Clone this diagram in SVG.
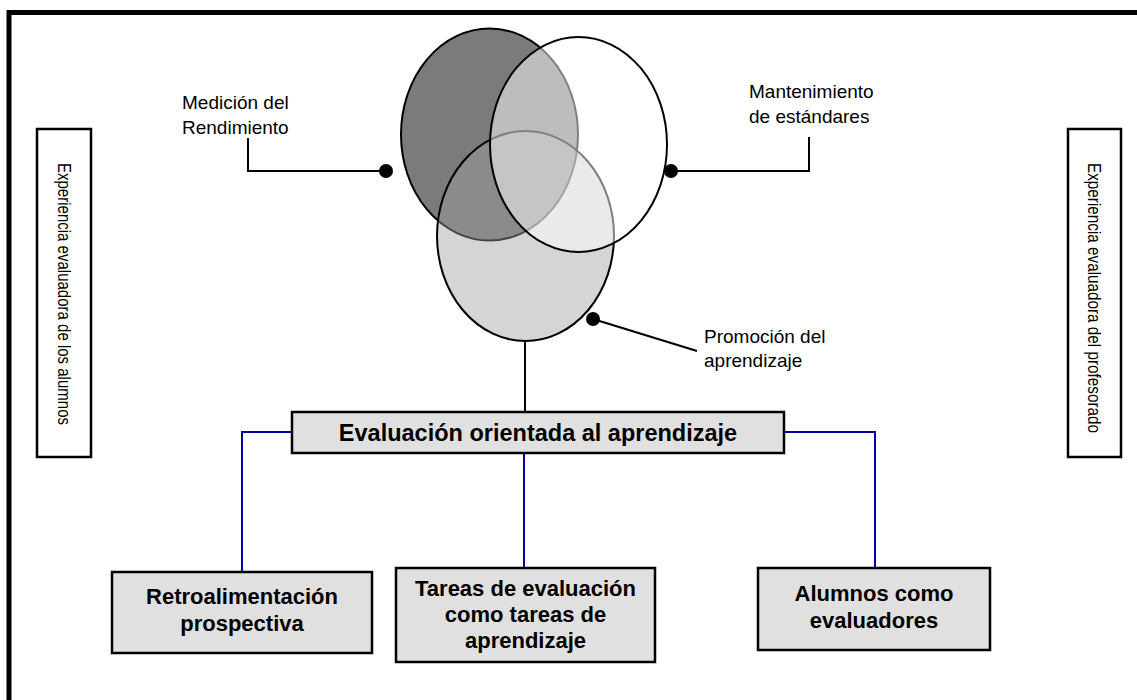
<svg xmlns="http://www.w3.org/2000/svg" width="1137" height="700" viewBox="0 0 1137 700">
<style>
.lbl{font-family:"Liberation Sans",Arial,sans-serif;font-size:19px;fill:#000}
.vt{font-family:"Liberation Sans",Arial,sans-serif;font-size:17.5px;fill:#000;text-anchor:middle}
.bt{font-family:"Liberation Sans",Arial,sans-serif;font-size:22px;font-weight:bold;fill:#000;text-anchor:middle}
.box{fill:#e0e0e0;stroke:#000;stroke-width:2.5}
.side{fill:#fff;stroke:#000;stroke-width:2.5}
.blk{stroke:#000;stroke-width:2;fill:none}
.blu{stroke:#0000a8;stroke-width:2;fill:none}
</style>
<rect x="0" y="0" width="1137" height="700" fill="#fff"/>
<rect x="9" y="12.5" width="1140" height="700" fill="none" stroke="#000" stroke-width="5"/>

<g id="venn">
<ellipse id="medicion" cx="489.5" cy="134.5" rx="88.5" ry="106" fill="#7b7b7b" stroke="#000" stroke-width="2"/>
<ellipse id="promocion" cx="525.5" cy="236" rx="88.5" ry="105" fill="#a0a0a0" fill-opacity="0.44" stroke="#000" stroke-width="2"/>
<ellipse id="mantenimiento" cx="578.5" cy="144.5" rx="88.5" ry="107.5" fill="#fff" fill-opacity="0.5" stroke="#000" stroke-width="2"/>
</g>

<g id="connectors">
<polyline class="blk" points="386,171 248,171 248,138"/>
<polyline class="blk" points="671,171 809,171 809,137"/>
<line class="blk" x1="593" y1="319" x2="697" y2="351"/>
<circle cx="386" cy="171" r="7" fill="#000"/>
<circle cx="671" cy="171" r="7" fill="#000"/>
<circle cx="593" cy="319" r="7" fill="#000"/>
<line class="blk" x1="525" y1="342" x2="525" y2="412"/>
<polyline class="blu" points="292,432 242,432 242,572"/>
<line class="blu" x1="524" y1="453" x2="524" y2="568"/>
<polyline class="blu" points="784,432 875,432 875,568"/>
</g>

<g id="label-medicion">
<text class="lbl" x="182" y="109">Medición del</text>
<text class="lbl" x="182" y="134">Rendimiento</text>
</g>
<g id="label-mantenimiento">
<text class="lbl" x="749" y="98">Mantenimiento</text>
<text class="lbl" x="749" y="123">de estándares</text>
</g>
<g id="label-promocion">
<text class="lbl" x="704" y="343">Promoción del</text>
<text class="lbl" x="704" y="367">aprendizaje</text>
</g>

<g id="side-alumnos">
<rect class="side" x="37" y="129" width="54" height="328"/>
<text class="vt" transform="translate(58,294) rotate(90)" textLength="262" lengthAdjust="spacingAndGlyphs">Experiencia evaluadora de los alumnos</text>
</g>
<g id="side-profesorado">
<rect class="side" x="1068" y="129" width="53" height="328"/>
<text class="vt" transform="translate(1088,298) rotate(90)" textLength="270" lengthAdjust="spacingAndGlyphs">Experiencia evaluadora del profesorado</text>
</g>

<g id="main">
<rect class="box" x="292" y="412" width="492" height="41"/>
<text class="bt" x="538" y="441" style="font-size:23.5px">Evaluación orientada al aprendizaje</text>
</g>
<g id="retro">
<rect class="box" x="112" y="572" width="260" height="81"/>
<text class="bt" x="242" y="604">Retroalimentación</text>
<text class="bt" x="242" y="631">prospectiva</text>
</g>
<g id="tareas">
<rect class="box" x="396" y="568" width="259" height="94"/>
<text class="bt" x="525.5" y="596">Tareas de evaluación</text>
<text class="bt" x="525.5" y="622">como tareas de</text>
<text class="bt" x="525.5" y="648">aprendizaje</text>
</g>
<g id="alumnos">
<rect class="box" x="758" y="568" width="232" height="82"/>
<text class="bt" x="874" y="601">Alumnos como</text>
<text class="bt" x="874" y="628">evaluadores</text>
</g>
</svg>
